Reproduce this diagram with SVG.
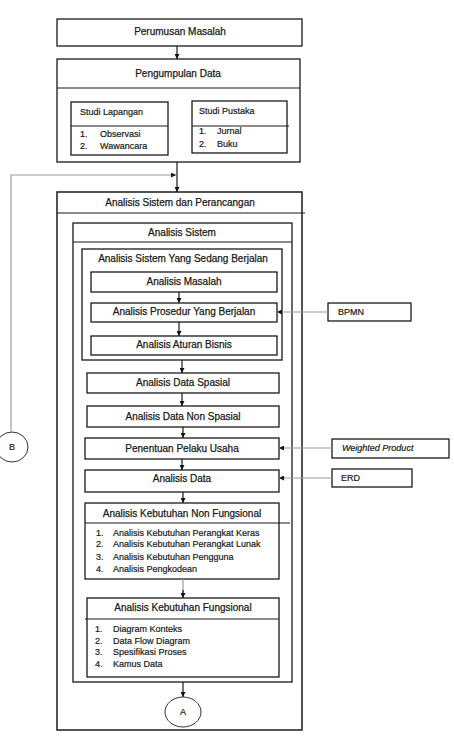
<svg xmlns="http://www.w3.org/2000/svg" width="454" height="750" viewBox="0 0 454 750">
<style>
.box{fill:#fff;stroke:#1a1a1a;stroke-width:1.3}
.ln{fill:none;stroke:#1a1a1a;stroke-width:1.2}
.t{font-family:"Liberation Sans",Arial,sans-serif;font-size:10px;fill:#1a1a1a;stroke:#1a1a1a;stroke-width:0.25;text-anchor:middle}
.s{font-family:"Liberation Sans",Arial,sans-serif;font-size:9px;fill:#1a1a1a;stroke:#1a1a1a;stroke-width:0.2}
.c{fill:none;stroke:#333;stroke-width:1}
.g{fill:none;stroke:#999;stroke-width:1.2}
</style>
<defs>
<marker id="ah" viewBox="0 0 6 6" refX="6" refY="3" markerWidth="5" markerHeight="5" orient="auto" markerUnits="userSpaceOnUse">
<path d="M0,0 L6,3 L0,6 Z" fill="#111"/>
</marker>
</defs>
<rect width="454" height="750" fill="#fff"/>

<g id="perumusan">
<rect class="box" x="57" y="19" width="245" height="27"/>
<text class="t" x="180" y="35">Perumusan Masalah</text>
</g>

<g id="pengumpulan">
<rect class="box" x="57" y="59" width="243" height="103"/>
<line class="ln" x1="57" y1="88" x2="300" y2="88"/>
<text class="t" x="178" y="77">Pengumpulan Data</text>
</g>

<g id="studi-lapangan">
<rect class="box" x="71" y="102" width="97" height="53"/>
<line class="ln" x1="71" y1="126" x2="168" y2="126"/>
<text class="s" x="80" y="115">Studi Lapangan</text>
<text class="s" x="80" y="137">1.</text><text class="s" x="100" y="137">Observasi</text>
<text class="s" x="80" y="149">2.</text><text class="s" x="100" y="149">Wawancara</text>
</g>

<g id="studi-pustaka">
<rect class="box" x="192" y="101" width="95" height="52"/>
<line class="ln" x1="192" y1="126" x2="289" y2="126"/>
<text class="s" x="199" y="114">Studi Pustaka</text>
<text class="s" x="199" y="134">1.</text><text class="s" x="217" y="134">Jurnal</text>
<text class="s" x="199" y="147">2.</text><text class="s" x="217" y="147">Buku</text>
</g>

<g id="analisis-sistem-perancangan">
<rect class="box" x="57" y="192" width="245" height="538" style="stroke-width:1.5"/>
<line class="ln" x1="57" y1="213" x2="305" y2="213"/>
<text class="t" x="180" y="206">Analisis Sistem dan Perancangan</text>
</g>

<g id="analisis-sistem">
<rect class="box" x="73" y="223" width="219" height="459"/>
<line class="ln" x1="73" y1="242" x2="292" y2="242"/>
<text class="t" x="182" y="236">Analisis Sistem</text>
</g>

<g id="sistem-berjalan">
<rect class="box" x="82" y="249" width="200" height="111"/>
<text class="t" x="183" y="262">Analisis Sistem Yang Sedang Berjalan</text>
</g>

<g id="analisis-masalah">
<rect class="box" x="91" y="272" width="186" height="20"/>
<text class="t" x="184" y="285">Analisis Masalah</text>
</g>

<g id="analisis-prosedur">
<rect class="box" x="91" y="303" width="186" height="19"/>
<text class="t" x="184" y="315">Analisis Prosedur Yang Berjalan</text>
</g>

<g id="analisis-aturan">
<rect class="box" x="91" y="336" width="186" height="19"/>
<text class="t" x="184" y="348">Analisis Aturan Bisnis</text>
</g>

<g id="data-spasial">
<rect class="box" x="87" y="373" width="192" height="20"/>
<text class="t" x="183" y="386">Analisis Data Spasial</text>
</g>

<g id="data-non-spasial">
<rect class="box" x="87" y="406" width="192" height="21"/>
<text class="t" x="183" y="420">Analisis Data Non Spasial</text>
</g>

<g id="penentuan">
<rect class="box" x="85" y="438" width="194" height="21"/>
<text class="t" x="182" y="452">Penentuan Pelaku Usaha</text>
</g>

<g id="analisis-data">
<rect class="box" x="85" y="470" width="194" height="22"/>
<text class="t" x="182" y="482">Analisis Data</text>
</g>

<g id="non-fungsional">
<rect class="box" x="85" y="503" width="194" height="76"/>
<line class="ln" x1="85" y1="523" x2="290" y2="523"/>
<text class="t" x="182" y="517">Analisis Kebutuhan Non Fungsional</text>
<text class="s" x="96" y="536">1.</text><text class="s" x="113" y="536">Analisis Kebutuhan Perangkat Keras</text>
<text class="s" x="96" y="547">2.</text><text class="s" x="113" y="547">Analisis Kebutuhan Perangkat Lunak</text>
<text class="s" x="96" y="560">3.</text><text class="s" x="113" y="560">Analisis Kebutuhan Pengguna</text>
<text class="s" x="96" y="572">4.</text><text class="s" x="113" y="572">Analisis Pengkodean</text>
</g>

<g id="fungsional">
<rect class="box" x="87" y="598" width="192" height="79"/>
<line class="ln" x1="85" y1="619" x2="279" y2="619"/>
<text class="t" x="183" y="611">Analisis Kebutuhan Fungsional</text>
<text class="s" x="95" y="632">1.</text><text class="s" x="113" y="632">Diagram Konteks</text>
<text class="s" x="95" y="644">2.</text><text class="s" x="113" y="644">Data Flow Diagram</text>
<text class="s" x="95" y="655">3.</text><text class="s" x="113" y="655">Spesifikasi Proses</text>
<text class="s" x="95" y="667">4.</text><text class="s" x="113" y="667">Kamus Data</text>
</g>

<g id="bpmn">
<rect class="box" x="328" y="303" width="83" height="18"/>
<text class="s" x="338" y="315">BPMN</text>
</g>

<g id="weighted-product">
<rect class="box" x="332" y="439" width="117" height="19"/>
<text class="s" x="342" y="451" font-style="italic">Weighted Product</text>
</g>

<g id="erd">
<rect class="box" x="332" y="469" width="80" height="18"/>
<text class="s" x="341" y="481">ERD</text>
</g>

<g id="circle-b">
<ellipse class="c" cx="12" cy="447" rx="16" ry="15" fill="#fff"/>
<text class="s" x="12" y="450" text-anchor="middle" font-size="7.5">B</text>
</g>

<g id="circle-a">
<ellipse class="c" cx="183" cy="712" rx="18" ry="15" fill="#fff"/>
<text class="s" x="183" y="715" text-anchor="middle" font-size="8">A</text>
</g>

<g id="connectors">
<line class="ln" x1="177" y1="46" x2="177" y2="59" marker-end="url(#ah)"/>
<line class="ln" x1="177" y1="162" x2="177" y2="192" marker-end="url(#ah)"/>
<polyline class="g" points="11,432 11,175 176,175" marker-end="url(#ah)"/>
<line class="ln" x1="179" y1="292" x2="179" y2="303" marker-end="url(#ah)"/>
<line class="ln" x1="179" y1="322" x2="179" y2="336" marker-end="url(#ah)"/>
<line class="ln" x1="182" y1="360" x2="182" y2="373" marker-end="url(#ah)"/>
<line class="ln" x1="182" y1="393" x2="182" y2="406" marker-end="url(#ah)"/>
<line class="ln" x1="183" y1="427" x2="183" y2="438" marker-end="url(#ah)"/>
<line class="ln" x1="182" y1="459" x2="182" y2="470" marker-end="url(#ah)"/>
<line class="ln" x1="183" y1="492" x2="183" y2="503" marker-end="url(#ah)"/>
<line class="g" x1="183" y1="579" x2="183" y2="593"/>
<line class="ln" x1="183" y1="590" x2="183" y2="598" marker-end="url(#ah)"/>
<line class="ln" x1="183" y1="682" x2="183" y2="697" marker-end="url(#ah)"/>
<line class="g" x1="328" y1="312" x2="277" y2="312" marker-end="url(#ah)"/>
<line class="g" x1="332" y1="448" x2="279" y2="448" marker-end="url(#ah)"/>
<line class="g" x1="332" y1="478" x2="279" y2="478" marker-end="url(#ah)"/>
</g>
</svg>
